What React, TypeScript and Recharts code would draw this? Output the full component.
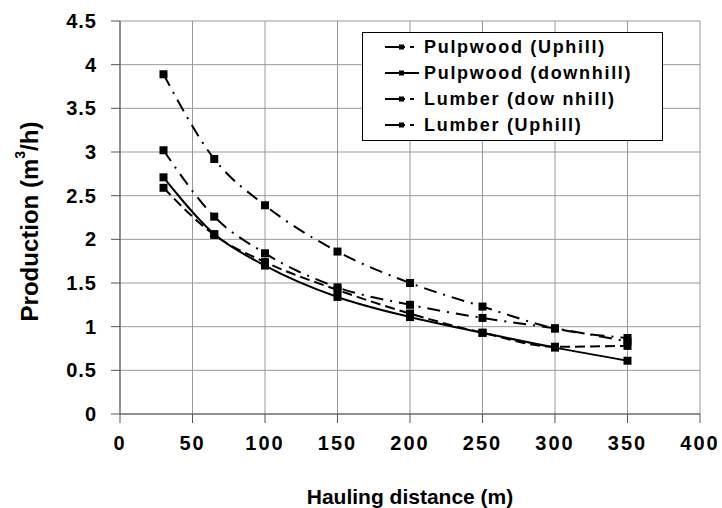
import React from 'react';
import { LineChart, Line, XAxis, YAxis, CartesianGrid, Label } from 'recharts';

// hauling distance (m) for each measured point
const distances = [30, 65, 100, 150, 200, 250, 300, 350];

// production (m3/h)
const pulpwoodUphill = [2.59, 2.05, 1.74, 1.42, 1.15, 0.93, 0.77, 0.78];
const pulpwoodDownhill = [2.71, 2.06, 1.7, 1.34, 1.11, 0.93, 0.76, 0.61];
const lumberDownhill = [3.89, 2.92, 2.39, 1.86, 1.5, 1.23, 0.98, 0.87];
const lumberUphill = [3.02, 2.26, 1.84, 1.45, 1.25, 1.1, 0.98, 0.83];

const xTicks = [0, 50, 100, 150, 200, 250, 300, 350, 400];
const yTicks = [0, 0.5, 1, 1.5, 2, 2.5, 3, 3.5, 4, 4.5];

const series = [
  { key: 'pu', name: 'Pulpwood (Uphill)', values: pulpwoodUphill, dash: '10 5' },
  { key: 'pd', name: 'Pulpwood (downhill)', values: pulpwoodDownhill, dash: undefined },
  { key: 'ld', name: 'Lumber (dow nhill)', values: lumberDownhill, dash: '13 7 2 7' },
  { key: 'lu', name: 'Lumber (Uphill)', values: lumberUphill, dash: '13 7 2 7' },
];

const data = distances.map((d, i) => {
  const row: Record<string, number> = { d };
  series.forEach((s) => {
    row[s.key] = s.values[i];
  });
  return row;
});

const FONT = '"Liberation Sans", Arial, sans-serif';

const SquareDot = (props: any) => {
  const { cx, cy, index, dataKey } = props;
  return <rect key={`${dataKey}-${index}`} x={cx - 4} y={cy - 4} width={8} height={8} fill="#000" />;
};

// legend box sits over the upper right of the plot
const LegendBox = () => (
  <div
    style={{
      position: 'absolute',
      left: 362,
      top: 32,
      width: 299,
      height: 106,
      border: '1px solid #000',
      background: '#fff',
      fontFamily: FONT,
      fontWeight: 'bold',
      fontSize: 18,
      letterSpacing: 1.7,
      color: '#000',
      paddingTop: 1,
      whiteSpace: 'nowrap',
    }}
  >
    {series.map((s) => (
      <div key={s.key} style={{ display: 'flex', alignItems: 'center', height: 26, paddingLeft: 22 }}>
        <svg width={36} height={10} style={{ marginRight: 3 }}>
          <line x1={0} y1={5} x2={34} y2={5} stroke="#000" strokeWidth={2} strokeDasharray={s.dash ? '20 5 4 5' : undefined} />
          <rect x={14} y={2.5} width={5} height={5} fill="#000" />
        </svg>
        <span>{s.name}</span>
      </div>
    ))}
  </div>
);

const YTitle = (props: any) => {
  const { viewBox } = props;
  const cx = 29;
  const cy = viewBox.y + viewBox.height / 2 + 4;
  return (
    <text
      x={cx}
      y={cy}
      transform={`rotate(-90 ${cx} ${cy})`}
      textAnchor="middle"
      dominantBaseline="central"
      fontFamily={FONT}
      fontWeight="bold"
      fontSize={24}
      fill="#000"
    >
      Production (m
      <tspan dy={-9} fontSize={14}>3</tspan>
      <tspan dy={9}>/h)</tspan>
    </text>
  );
};

export default function App() {
  return (
    <div style={{ position: 'absolute', left: 0, top: 0, width: 722, height: 508, background: '#fff' }}>
      <LineChart width={722} height={508} data={data} margin={{ top: 21, right: 22, bottom: 0, left: 0 }}>
        <CartesianGrid stroke="#999" strokeWidth={1} />
        <XAxis
          dataKey="d"
          type="number"
          domain={[0, 400]}
          ticks={xTicks}
          height={94}
          tickSize={9}
          tickMargin={13}
          stroke="#555"
          tick={{ fill: '#000', fontSize: 20, fontWeight: 'bold', fontFamily: FONT, letterSpacing: 2 }}
        >
          <Label
            value="Hauling distance (m)"
            position="insideBottom"
            offset={4}
            fill="#000"
            fontSize={21}
            fontWeight="bold"
            fontFamily={FONT}
          />
        </XAxis>
        <YAxis
          type="number"
          domain={[0, 4.5]}
          ticks={yTicks}
          width={120}
          tickSize={9}
          tickMargin={14}
          stroke="#555"
          tick={{ fill: '#000', fontSize: 20, fontWeight: 'bold', fontFamily: FONT, letterSpacing: 1 }}
        >
          <Label content={<YTitle />} />
        </YAxis>
        {series.map((s) => (
          <Line
            key={s.key}
            dataKey={s.key}
            name={s.name}
            type="monotone"
            stroke="#000"
            strokeWidth={2}
            strokeDasharray={s.dash}
            dot={SquareDot}
            isAnimationActive={false}
          />
        ))}
      </LineChart>
      <LegendBox />
    </div>
  );
}
